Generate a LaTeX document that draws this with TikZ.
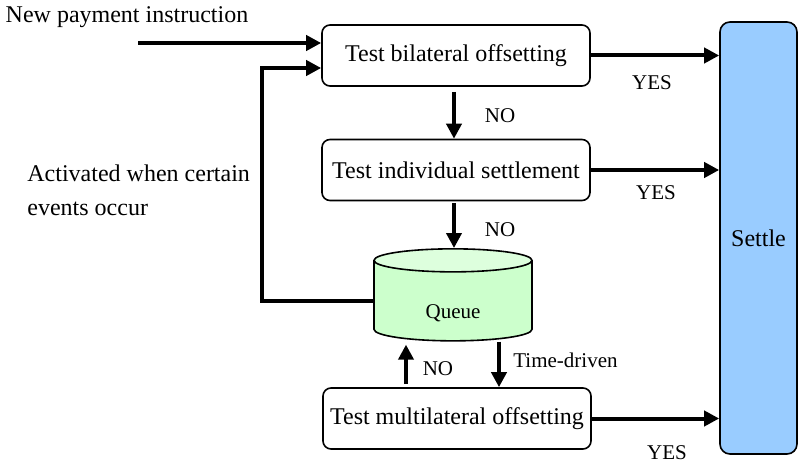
\documentclass[tikz,border=0pt]{standalone}
\usepackage{fontspec}
\setmainfont{Liberation Serif}
\usetikzlibrary{shapes.geometric}
\usetikzlibrary{arrows.meta}
\definecolor{queuebody}{RGB}{204,255,204}
\definecolor{queuetop}{RGB}{221,255,221}
\definecolor{settleblue}{RGB}{153,204,255}

\begin{document}
\begin{tikzpicture}[x=0.5pt ,y=-0.5pt ,font=\fontsize{12}{14}\selectfont ,
    flow/.style ={-{Triangle[length=7.5pt,width=7.5pt]} ,line width=2pt},
    test/.style ={rectangle ,rounded corners=4pt ,draw ,line width=0.8pt ,
    minimum width=134pt ,minimum height=30.5pt ,inner sep=0pt},
    note/.style ={font=\fontsize{10.5}{12}\selectfont ,inner sep=0pt}]
    \useasboundingbox (0,0) rectangle (799,465);
    \node[test] (bil) at (456,55.5) {Test bilateral offsetting};
    \node[test] (ind) at (456,170) {Test individual settlement};
    \node[test] (mul) at (457,418.5) {Test multilateral offsetting};
    \node[cylinder ,shape border rotate=90 ,draw ,line width=0.8pt ,aspect=0.42 ,
      cylinder uses custom fill ,cylinder body fill=queuebody ,cylinder end fill=queuetop ,
      minimum height=46pt ,minimum width=79pt ,inner sep=0pt ,note ,
      text height=20pt ,text depth=2pt] (queue) at (453,301) {Queue};
    \node[rectangle ,rounded corners=5pt ,draw ,line width=0.8pt ,fill=settleblue ,
      minimum width=38.5pt ,minimum height=216pt] (settle) at (758.5,238) {Settle};
    \node[inner sep=0pt] (newlbl) at (127,17) {New payment instruction};
    \node[align=left ,anchor=west ,inner sep=0pt ,font=\fontsize{12}{17}\selectfont] (actlbl) at (27,190) {Activated when certain\\events occur};
    \coordinate (newin) at (138,43);
    \coordinate (loopc) at (262,68);
    % inputs
    \draw[flow] (newin) -- (newin -| bil.west);
    \draw[flow] (queue.west) -| (loopc) -- (loopc -| bil.west);
    % to settle
    \draw[flow] (bil.east) -- (bil.east -| settle.west);
    \draw[flow] (ind.east) -- (ind.east -| settle.west);
    \draw[flow] (mul.east) -- (mul.east -| settle.west);
    \node[note] (yes1) at (652,83) {YES};
    \node[note] (yes2) at (656,193) {YES};
    \node[note] (yes3) at (667,453) {YES};
    % down the chain
    \draw[flow ,shorten <=2.5pt] ([xshift=-1pt]bil.south) -- ([xshift=-1pt]bil.south |- ind.north);
    \draw[flow ,shorten <=1pt] ([xshift=-1pt]ind.south) -- ([xshift=-1pt]ind.south |- queue.north);
    \node[note] (no1) at (500,116) {NO};
    \node[note] (no2) at (500,230) {NO};
    \draw[flow] ([xshift=23pt]queue.south) -- ([xshift=23pt]queue.south |- mul.north);
    \node[note ,anchor=west] (timelbl) at (513,360) {Time-driven};
    \draw[flow ,shorten <=1.5pt ,shorten >=1.5pt] ([xshift=-25.5pt]mul.north) -- ([xshift=-25.5pt]mul.north |- queue.south);
    \node[note] (no3) at (438,369) {NO};
\end{tikzpicture}
\end{document}
